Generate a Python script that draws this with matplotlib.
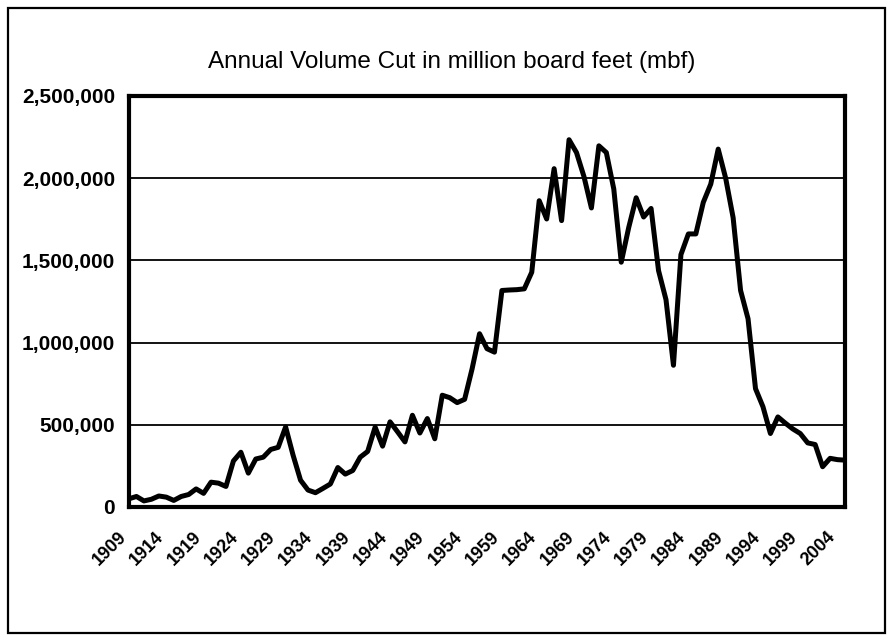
import matplotlib
matplotlib.use('Agg')
import matplotlib.pyplot as plt
import matplotlib.transforms as mtransforms
from matplotlib.patches import Rectangle
from matplotlib.ticker import FuncFormatter

plt.rcParams['font.family'] = ['Liberation Sans', 'DejaVu Sans']

# data (mbf per year)
years = list(range(1909, 2006))
volume_cut = [
    50000, 64000, 37000, 47000, 67000, 60000, 40000, 64000, 76000, 110000,
    83000, 151000, 145000, 125000, 280000, 333000, 206000, 292000, 303000, 350000,
    363000, 487000, 315000, 163000, 103000, 87000, 113000, 140000, 240000, 200000,
    222000, 303000, 338000, 486000, 370000, 518000, 458000, 396000, 558000, 450000,
    538000, 415000, 680000, 665000, 635000, 655000, 840000, 1054000, 963000, 942000,
    1317000, 1320000, 1322000, 1327000, 1428000, 1863000, 1752000, 2058000, 1742000, 2234000,
    2156000, 2010000, 1819000, 2197000, 2156000, 1934000, 1489000, 1700000, 1881000, 1764000,
    1816000, 1438000, 1261000, 862000, 1535000, 1661000, 1661000, 1853000, 1964000, 2177000,
    2000000, 1760000, 1317000, 1145000, 720000, 610000, 447000, 548000, 510000, 475000,
    447000, 390000, 380000, 245000, 296000, 288000, 285000,
]
tick_years = list(range(1909, 2005, 5))
y_ticks = [0, 500000, 1000000, 1500000, 2000000, 2500000]
title = 'Annual Volume Cut in million board feet (mbf)'

W, H = 892, 643
fig = plt.figure(figsize=(W / 100, H / 100), dpi=100)

# outer chart border
fig.patches.append(Rectangle((8 / W, 10 / H), 877 / W, 625 / H, transform=fig.transFigure,
                             fill=False, edgecolor='black', linewidth=1.6))

ax = fig.add_axes([129 / W, (H - 507) / H, 716 / W, 411 / H])
ax.plot(years, volume_cut, color='black', linewidth=3.6, solid_joinstyle='round')

ax.set_xlim(years[0], years[-1])
ax.set_ylim(0, 2500000)
ax.set_yticks(y_ticks)
ax.yaxis.set_major_formatter(FuncFormatter(lambda v, p: f'{int(v):,}'))
ax.set_xticks(tick_years)
ax.set_xticklabels([str(y) for y in tick_years])

ax.grid(axis='y', color='black', linewidth=1.3)
ax.set_axisbelow(True)
for s in ax.spines.values():
    s.set_linewidth(3.0)
    s.set_color('black')

ax.tick_params(axis='y', length=0, pad=10, labelsize=15)
ax.tick_params(axis='x', length=0, pad=20, labelsize=13)
for lab in ax.get_yticklabels():
    lab.set_fontweight('bold')
offset = mtransforms.ScaledTranslation(-5 / 100, 0, fig.dpi_scale_trans)
for lab in ax.get_xticklabels():
    lab.set_fontweight('bold')
    lab.set_rotation(45)
    lab.set_rotation_mode('anchor')
    lab.set_ha('right')
    lab.set_va('center')
    lab.set_transform(lab.get_transform() + offset)

fig.text(452 / W, 1 - 62 / H, title, ha='center', va='center', fontsize=17.5)

fig.savefig('out.png', dpi=100)
